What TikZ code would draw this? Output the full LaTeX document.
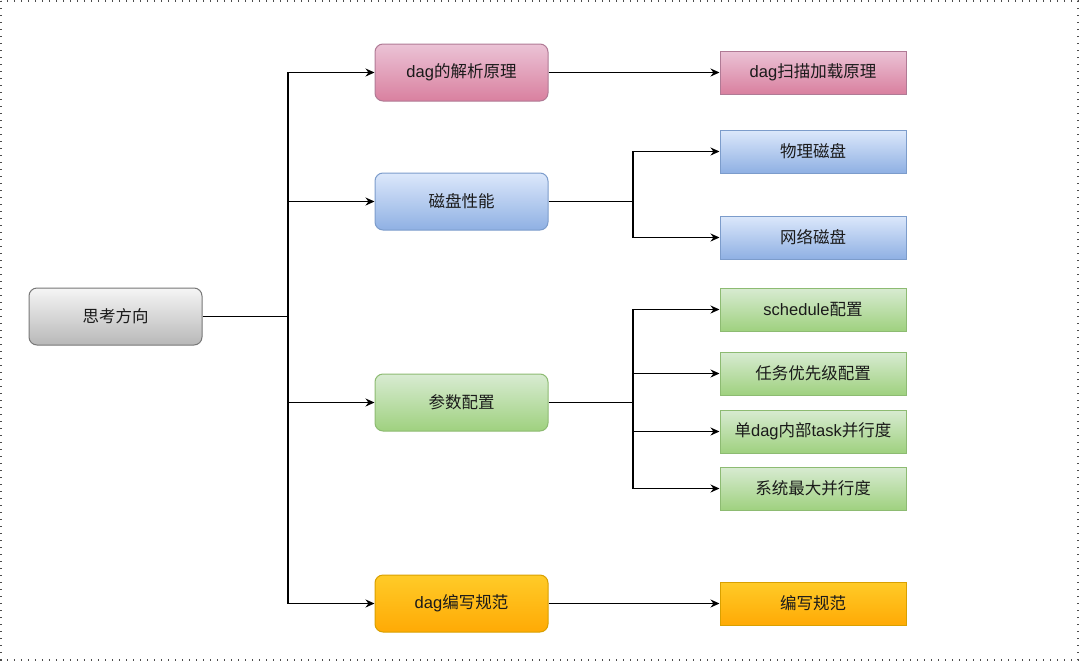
\documentclass[tikz,border=0pt]{standalone}
\usepackage{fontspec}
\setmainfont{Noto Sans CJK SC}
\newfontfamily\lat{Liberation Sans}
\usetikzlibrary{arrows.meta}
\definecolor{txt}{HTML}{1A1A1A}
\tikzset{
  box/.style={minimum height=57pt, minimum width=173pt, inner sep=0pt, rounded corners=8pt,
    line width=1pt, font=\fontsize{16.5}{18}\selectfont, text=txt},
  leaf/.style={minimum height=43pt, minimum width=186pt, inner sep=0pt,
    line width=1pt, font=\fontsize{16.5}{18}\selectfont, text=txt},
  grey/.style={draw=HTML666, top color=Gf, bottom color=Gb},
  pink/.style={draw=Pd, top color=Pt, bottom color=Pb},
  blue/.style={draw=Bd, top color=Bt, bottom color=Bb},
  green/.style={draw=Gd, top color=Gt, bottom color=Gbb},
  orange/.style={draw=Od, top color=Ot, bottom color=Ob},
  conn/.style={line width=1.2pt, draw=black},
  arr/.style={conn, -{Stealth[length=9pt,width=8pt]}},
}
\definecolor{HTML666}{HTML}{777777}
\definecolor{Gf}{HTML}{F5F5F5}
\definecolor{Gb}{HTML}{B8B8B8}
\definecolor{Pd}{HTML}{B07A95}
\definecolor{Pt}{HTML}{EBC3D6}
\definecolor{Pb}{HTML}{D9809F}
\definecolor{Bd}{HTML}{7C9CCB}
\definecolor{Bt}{HTML}{DCE8FB}
\definecolor{Bb}{HTML}{8FB0E3}
\definecolor{Gd}{HTML}{8DBB72}
\definecolor{Gt}{HTML}{D8EBD2}
\definecolor{Gbb}{HTML}{9FD17F}
\definecolor{Od}{HTML}{D9A000}
\definecolor{Ot}{HTML}{FFCB28}
\definecolor{Ob}{HTML}{FFAA05}
\begin{document}
\begin{tikzpicture}[x=1pt,y=-1pt]
\useasboundingbox (0,0) rectangle (1080,662);
\draw[draw=black!70, line width=1.2pt, dash pattern=on 1.2pt off 5.8pt] (1,1) rectangle (1078,660);

\node[box, grey] (root) at (115.5,316.5) {思考方向};

\node[box, pink]   (m1) at (461.5,72.5)  {{\lat dag}的解析原理};
\node[box, blue]   (m2) at (461.5,201.5) {磁盘性能};
\node[box, green]  (m3) at (461.5,402.5) {参数配置};
\node[box, orange] (m4) at (461.5,603.5) {{\lat dag}编写规范};

\node[leaf, pink]   (l1) at (813,72.5)  {{\lat dag}扫描加载原理};
\node[leaf, blue]   (l2) at (813,151.5) {物理磁盘};
\node[leaf, blue]   (l3) at (813,237.5) {网络磁盘};
\node[leaf, green]  (l4) at (813,309.5) {{\lat schedule}配置};
\node[leaf, green]  (l5) at (813,373.5) {任务优先级配置};
\node[leaf, green]  (l6) at (813,431.5) {单{\lat dag}内部{\lat task}并行度};
\node[leaf, green]  (l7) at (813,488.5) {系统最大并行度};
\node[leaf, orange] (l8) at (813,603.5) {编写规范};

\coordinate (t) at (288,316.5);
\draw[conn] (root.east) -- (t);
\draw[arr] (t) |- (m1.west);
\draw[arr] (t) |- (m2.west);
\draw[arr] (t) |- (m3.west);
\draw[arr] (t) |- (m4.west);

\draw[arr] (m1.east) -- (l1.west);
\draw[arr] (m4.east) -- (l8.west);

\coordinate (s2) at (633,201.5);
\draw[conn] (m2.east) -- (s2);
\draw[arr] (s2) |- (l2.west);
\draw[arr] (s2) |- (l3.west);

\coordinate (s3) at (633,402.5);
\draw[conn] (m3.east) -- (s3);
\draw[arr] (s3) |- (l4.west);
\draw[arr] (s3) |- (l5.west);
\draw[arr] (s3) |- (l6.west);
\draw[arr] (s3) |- (l7.west);
\end{tikzpicture}
\end{document}
